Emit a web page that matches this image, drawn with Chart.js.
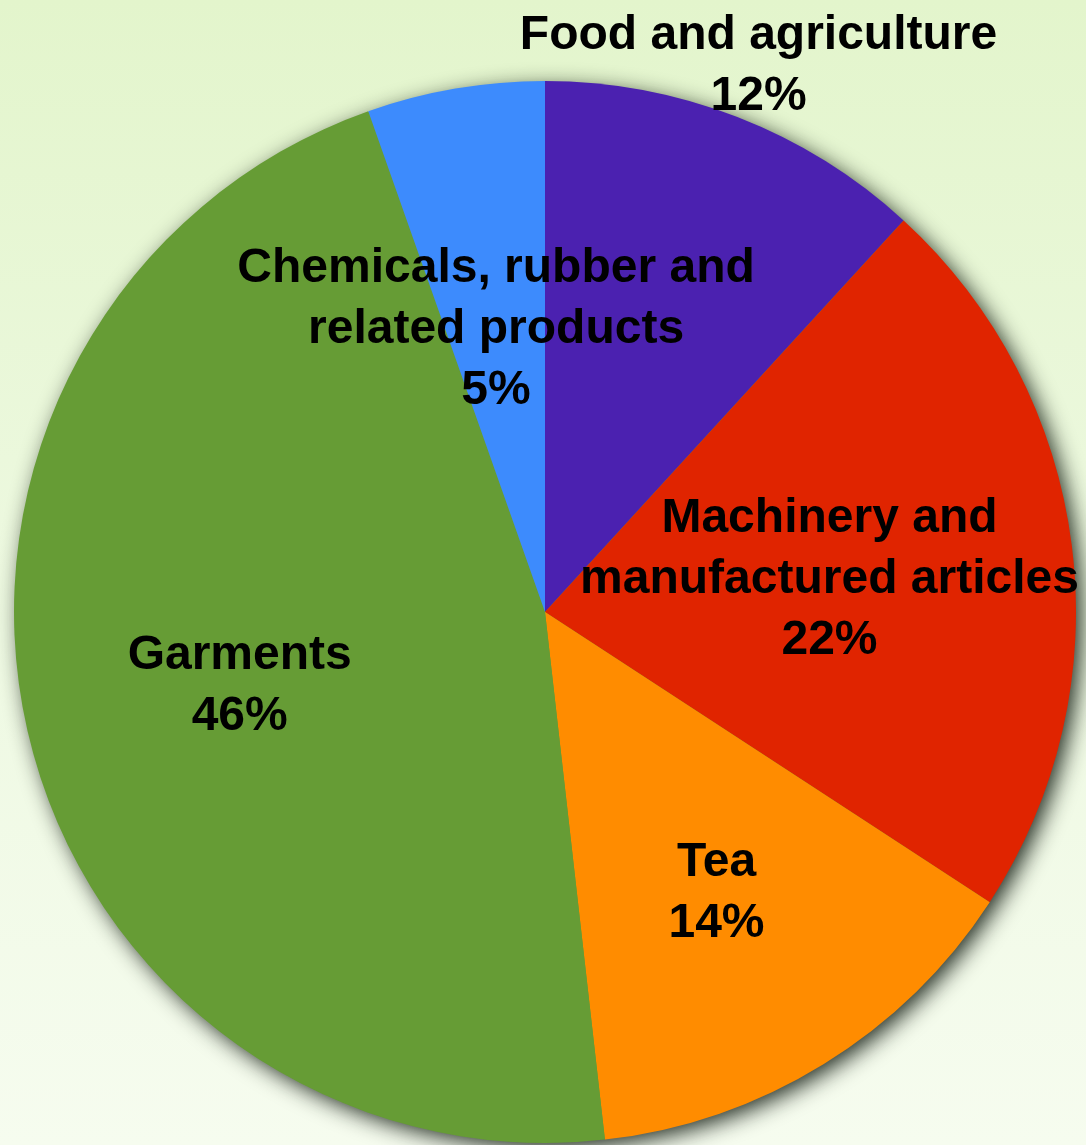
<!DOCTYPE html>
<html>
<head>
<meta charset="utf-8">
<script src="https://cdn.jsdelivr.net/npm/chart.js@4.4.1/dist/chart.umd.min.js"></script>
<style>
  html, body { margin: 0; padding: 0; }
  body { width: 1086px; height: 1145px; background: linear-gradient(to bottom, #e3f5cc 0%, #eef9e2 55%, #f6fcef 100%); overflow: hidden; }
  #wrap { position: relative; width: 1086px; height: 1145px; }
</style>
</head>
<body>
<div id="wrap"><canvas id="exportPie"></canvas></div>
<script>
const categories = ['Food and agriculture', 'Machinery and manufactured articles', 'Tea', 'Garments', 'Chemicals, rubber and related products'];
const shares = [11.8, 22.4, 14.0, 46.4, 5.4];
const labelLines = [['Food and agriculture'], ['Machinery and', 'manufactured articles'], ['Tea'], ['Garments'], ['Chemicals, rubber and', 'related products']];
const sliceColors = ['#4b21b0', '#e02400', '#ff8c00', '#669c35', '#3d8bfd'];
// how far out (fraction of radius) each label sits along the slice's middle
const labelRadius = [1.11, 0.54, 0.615, 0.59, 0.546];

const pieShadow = {
    id: 'pieShadow',
    beforeDatasetsDraw(chart) {
        const arc = chart.getDatasetMeta(0).data[0];
        if (!arc) return;
        const ctx = chart.ctx;
        ctx.save();
        ctx.shadowColor = 'rgba(10, 20, 10, 0.9)';
        ctx.shadowBlur = 22;
        ctx.shadowOffsetX = 6;
        ctx.shadowOffsetY = 6;
        ctx.fillStyle = '#669c35';
        ctx.beginPath();
        ctx.arc(arc.x, arc.y, arc.outerRadius - 1, 0, Math.PI * 2);
        ctx.fill();
        ctx.restore();
    }
};

const sliceLabels = {
    id: 'sliceLabels',
    afterDatasetsDraw(chart) {
        const ctx = chart.ctx;
        const lh = 61;
        ctx.save();
        ctx.font = "bold 48px 'Liberation Sans', Arial, sans-serif";
        ctx.fillStyle = '#000';
        ctx.textAlign = 'center';
        ctx.textBaseline = 'alphabetic';
        chart.getDatasetMeta(0).data.forEach((arc, i) => {
            const mid = (arc.startAngle + arc.endAngle) / 2;
            const r = arc.outerRadius * labelRadius[i];
            const cx = arc.x + Math.cos(mid) * r;
            const cy = arc.y + Math.sin(mid) * r;
            const lines = labelLines[i].concat([Math.round(shares[i]) + '%']);
            lines.forEach((t, j) => {
                const y = cy + (j - (lines.length - 1) / 2) * lh + 17;
                ctx.fillText(t, cx, y);
            });
        });
        ctx.restore();
    }
};

new Chart(document.getElementById('exportPie'), {
    type: 'pie',
    data: { labels: categories, datasets: [{ data: shares, backgroundColor: sliceColors, borderWidth: 0 }] },
    options: {
        responsive: true, maintainAspectRatio: false, animation: false,
        layout: { padding: { left: 14, right: 10, top: 81, bottom: 2 } },
        plugins: { legend: { display: false }, tooltip: { enabled: false } }
    },
    plugins: [pieShadow, sliceLabels]
});
</script>
</body>
</html>
